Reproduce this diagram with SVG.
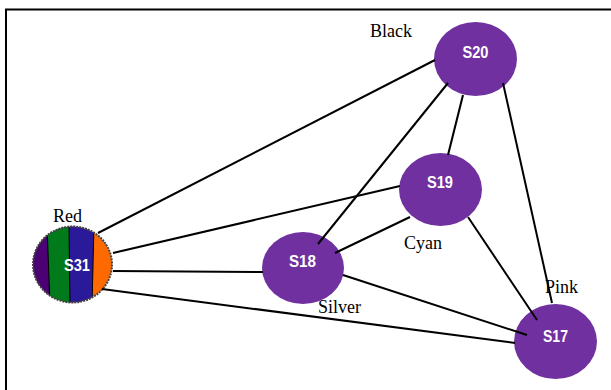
<svg xmlns="http://www.w3.org/2000/svg" width="611" height="390" viewBox="0 0 611 390">
<style>
.node{fill:#7030A0}
.nl{font-family:"Liberation Sans",Arial,sans-serif;font-weight:bold;font-size:17px;fill:#fff;text-anchor:middle}
.lbl{font-family:"Liberation Serif","Times New Roman",serif;font-size:18px;fill:#000}
.edge line{stroke:#000;stroke-width:2}
</style>
<defs>
<clipPath id="c31"><ellipse cx="72.5" cy="264.5" rx="39.5" ry="38"/></clipPath>
</defs>
<rect x="0" y="0" width="611" height="390" fill="#fff"/>
<g id="frame" stroke="#000" stroke-width="2" fill="none">
<line x1="5" y1="9.5" x2="611" y2="9.5"/>
<line x1="6" y1="9" x2="6" y2="390"/>
</g>
<g id="S20"><ellipse class="node" cx="475.5" cy="59" rx="41.5" ry="37"/><text class="nl" x="475.5" y="58" textLength="26" lengthAdjust="spacingAndGlyphs">S20</text></g>
<g id="S19"><ellipse class="node" cx="440.5" cy="189.5" rx="41.5" ry="36.5"/><text class="nl" x="440" y="188" textLength="26" lengthAdjust="spacingAndGlyphs">S19</text></g>
<g id="S18"><ellipse class="node" cx="303" cy="268" rx="41" ry="36"/><text class="nl" x="302.5" y="267" textLength="27" lengthAdjust="spacingAndGlyphs">S18</text></g>
<g id="S17"><ellipse class="node" cx="555.5" cy="341.5" rx="41.5" ry="37.5"/><text class="nl" x="555.5" y="342" textLength="25" lengthAdjust="spacingAndGlyphs">S17</text></g>
<g id="S31">
<g clip-path="url(#c31)">
<rect x="30" y="224" width="90" height="82" fill="#FF6A00"/>
<polygon points="30,224 94,224 92,306 30,306" fill="#2A1A9A"/>
<polygon points="30,224 69,224 70,306 30,306" fill="#007A1A"/>
<polygon points="30,224 47,224 50,306 30,306" fill="#4B0073"/>
<g stroke="#000" stroke-width="1">
<line x1="47" y1="224" x2="50" y2="306"/>
<line x1="69" y1="224" x2="70" y2="306"/>
<line x1="94" y1="224" x2="92" y2="306"/>
</g>
</g>
<ellipse cx="72.5" cy="264.5" rx="39.5" ry="38" fill="none" stroke="#444" stroke-width="2" stroke-dasharray="2 1"/>
<text class="nl" x="77" y="271" textLength="26" lengthAdjust="spacingAndGlyphs">S31</text>
</g>
<g id="edges" class="edge">
<line x1="98" y1="233" x2="435" y2="60"/>
<line x1="113" y1="253" x2="400" y2="186"/>
<line x1="113" y1="271" x2="263" y2="272"/>
<line x1="102" y1="289" x2="515" y2="343"/>
<line x1="448" y1="83" x2="318" y2="244"/>
<line x1="463" y1="95" x2="448" y2="155"/>
<line x1="503" y1="83" x2="552" y2="303"/>
<line x1="410" y1="217" x2="335" y2="253"/>
<line x1="468" y1="217" x2="537" y2="320"/>
<line x1="343" y1="275" x2="527" y2="335"/>
</g>
<g id="labels">
<text class="lbl" x="53" y="222">Red</text>
<text class="lbl" x="370" y="37">Black</text>
<text class="lbl" x="404" y="249">Cyan</text>
<text class="lbl" x="318" y="313">Silver</text>
<text class="lbl" x="545" y="293">Pink</text>
</g>
</svg>
